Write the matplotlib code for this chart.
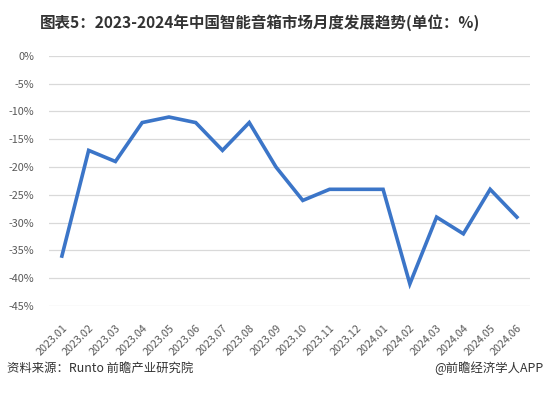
import matplotlib
matplotlib.use("Agg")
import matplotlib.pyplot as plt
from matplotlib.ticker import FuncFormatter

plt.rcParams['font.family'] = ['Noto Sans CJK SC', 'DejaVu Sans']

months = ["2023.01", "2023.02", "2023.03", "2023.04", "2023.05", "2023.06",
          "2023.07", "2023.08", "2023.09", "2023.10", "2023.11", "2023.12",
          "2024.01", "2024.02", "2024.03", "2024.04", "2024.05", "2024.06"]
growth = [-36, -17, -19, -12, -11, -12, -17, -12, -20, -26, -24, -24,
          -24, -41, -29, -32, -24, -29]
yticks = [0, -5, -10, -15, -20, -25, -30, -35, -40, -45]

fig = plt.figure(figsize=(5.45, 3.96), dpi=100)
ax = fig.add_axes([0.089, 0.227, 0.884, 0.632])

x = list(range(len(months)))
ax.plot(x, growth, color="#3b75c8", linewidth=2.6, solid_joinstyle="miter")

ax.set_xlim(-0.5, len(months) - 0.5)
ax.set_ylim(-45, 0)
ax.set_yticks(yticks)
ax.yaxis.set_major_formatter(FuncFormatter(lambda v, p: f"{v:.0f}%"))
ax.set_xticks(x)
ax.set_xticklabels(months, rotation=45, ha="right", rotation_mode="anchor")
ax.tick_params(axis="both", length=0, labelsize=7.8, colors="#595959")
ax.tick_params(axis="x", pad=12)
ax.tick_params(axis="y", pad=10)
for s in ax.spines.values():
    s.set_visible(False)
ax.grid(axis="y", color="#d9d9d9", linewidth=0.9)
ax.set_axisbelow(True)

fig.text(0.478, 0.944, "图表5：2023-2024年中国智能音箱市场月度发展趋势(单位：%)",
         ha="center", va="center", fontsize=11.2, fontweight="bold", color="#333333")
fig.text(0.012, 0.07, "资料来源：Runto 前瞻产业研究院", ha="left", va="center",
         fontsize=8.9, color="#333333")
fig.text(0.997, 0.07, "@前瞻经济学人APP", ha="right", va="center",
         fontsize=8.9, color="#333333")

fig.savefig("out.png", dpi=100)
